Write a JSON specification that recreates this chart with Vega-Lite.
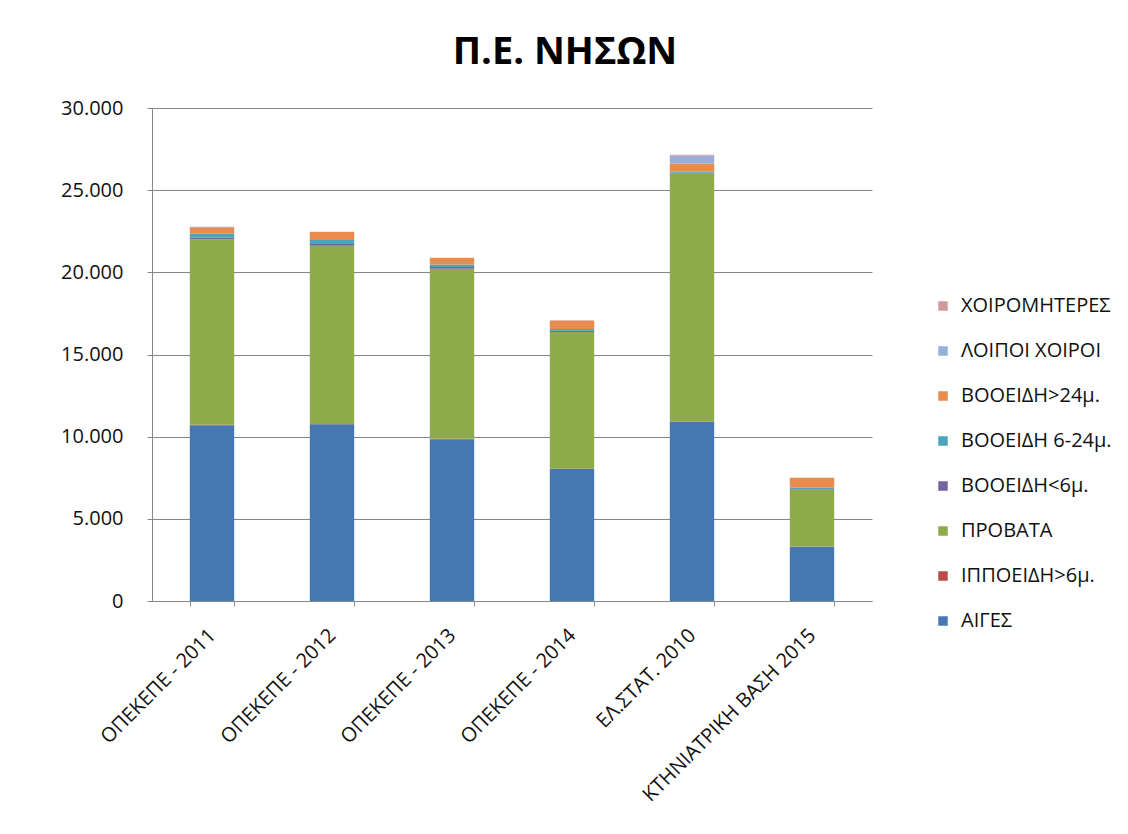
{
  "$schema": "https://vega.github.io/schema/vega-lite/v6.json",
  "width": 720,
  "height": 493,
  "autosize": {"type": "none"},
  "padding": {"left": 152, "top": 108, "right": 256, "bottom": 233},
  "background": "white",
  "title": {
    "text": "Π.Ε. ΝΗΣΩΝ",
    "font": "Open Sans",
    "fontSize": 38,
    "fontWeight": "bold",
    "color": "#000000",
    "anchor": "middle",
    "frame": "group",
    "dx": 53,
    "offset": 26
  },
  "data": {
    "values": [
      {"c": "ΟΠΕΚΕΠΕ - 2011", "k": "ΑΙΓΕΣ", "v": 10700},
      {"c": "ΟΠΕΚΕΠΕ - 2011", "k": "ΙΠΠΟΕΙΔΗ>6μ.", "v": 20},
      {"c": "ΟΠΕΚΕΠΕ - 2011", "k": "ΠΡΟΒΑΤΑ", "v": 11300},
      {"c": "ΟΠΕΚΕΠΕ - 2011", "k": "ΒΟΟΕΙΔΗ<6μ.", "v": 100},
      {"c": "ΟΠΕΚΕΠΕ - 2011", "k": "ΒΟΟΕΙΔΗ 6-24μ.", "v": 250},
      {"c": "ΟΠΕΚΕΠΕ - 2011", "k": "ΒΟΟΕΙΔΗ>24μ.", "v": 380},
      {"c": "ΟΠΕΚΕΠΕ - 2011", "k": "ΛΟΙΠΟΙ ΧΟΙΡΟΙ", "v": 20},
      {"c": "ΟΠΕΚΕΠΕ - 2011", "k": "ΧΟΙΡΟΜΗΤΕΡΕΣ", "v": 10},
      {"c": "ΟΠΕΚΕΠΕ - 2012", "k": "ΑΙΓΕΣ", "v": 10750},
      {"c": "ΟΠΕΚΕΠΕ - 2012", "k": "ΙΠΠΟΕΙΔΗ>6μ.", "v": 20},
      {"c": "ΟΠΕΚΕΠΕ - 2012", "k": "ΠΡΟΒΑΤΑ", "v": 10850},
      {"c": "ΟΠΕΚΕΠΕ - 2012", "k": "ΒΟΟΕΙΔΗ<6μ.", "v": 100},
      {"c": "ΟΠΕΚΕΠΕ - 2012", "k": "ΒΟΟΕΙΔΗ 6-24μ.", "v": 250},
      {"c": "ΟΠΕΚΕΠΕ - 2012", "k": "ΒΟΟΕΙΔΗ>24μ.", "v": 480},
      {"c": "ΟΠΕΚΕΠΕ - 2012", "k": "ΛΟΙΠΟΙ ΧΟΙΡΟΙ", "v": 10},
      {"c": "ΟΠΕΚΕΠΕ - 2012", "k": "ΧΟΙΡΟΜΗΤΕΡΕΣ", "v": 5},
      {"c": "ΟΠΕΚΕΠΕ - 2013", "k": "ΑΙΓΕΣ", "v": 9850},
      {"c": "ΟΠΕΚΕΠΕ - 2013", "k": "ΙΠΠΟΕΙΔΗ>6μ.", "v": 20},
      {"c": "ΟΠΕΚΕΠΕ - 2013", "k": "ΠΡΟΒΑΤΑ", "v": 10350},
      {"c": "ΟΠΕΚΕΠΕ - 2013", "k": "ΒΟΟΕΙΔΗ<6μ.", "v": 100},
      {"c": "ΟΠΕΚΕΠΕ - 2013", "k": "ΒΟΟΕΙΔΗ 6-24μ.", "v": 150},
      {"c": "ΟΠΕΚΕΠΕ - 2013", "k": "ΒΟΟΕΙΔΗ>24μ.", "v": 400},
      {"c": "ΟΠΕΚΕΠΕ - 2013", "k": "ΛΟΙΠΟΙ ΧΟΙΡΟΙ", "v": 10},
      {"c": "ΟΠΕΚΕΠΕ - 2013", "k": "ΧΟΙΡΟΜΗΤΕΡΕΣ", "v": 5},
      {"c": "ΟΠΕΚΕΠΕ - 2014", "k": "ΑΙΓΕΣ", "v": 8030},
      {"c": "ΟΠΕΚΕΠΕ - 2014", "k": "ΙΠΠΟΕΙΔΗ>6μ.", "v": 20},
      {"c": "ΟΠΕΚΕΠΕ - 2014", "k": "ΠΡΟΒΑΤΑ", "v": 8320},
      {"c": "ΟΠΕΚΕΠΕ - 2014", "k": "ΒΟΟΕΙΔΗ<6μ.", "v": 80},
      {"c": "ΟΠΕΚΕΠΕ - 2014", "k": "ΒΟΟΕΙΔΗ 6-24μ.", "v": 100},
      {"c": "ΟΠΕΚΕΠΕ - 2014", "k": "ΒΟΟΕΙΔΗ>24μ.", "v": 520},
      {"c": "ΟΠΕΚΕΠΕ - 2014", "k": "ΛΟΙΠΟΙ ΧΟΙΡΟΙ", "v": 10},
      {"c": "ΟΠΕΚΕΠΕ - 2014", "k": "ΧΟΙΡΟΜΗΤΕΡΕΣ", "v": 5},
      {"c": "ΕΛ.ΣΤΑΤ. 2010", "k": "ΑΙΓΕΣ", "v": 10900},
      {"c": "ΕΛ.ΣΤΑΤ. 2010", "k": "ΙΠΠΟΕΙΔΗ>6μ.", "v": 20},
      {"c": "ΕΛ.ΣΤΑΤ. 2010", "k": "ΠΡΟΒΑΤΑ", "v": 15100},
      {"c": "ΕΛ.ΣΤΑΤ. 2010", "k": "ΒΟΟΕΙΔΗ<6μ.", "v": 50},
      {"c": "ΕΛ.ΣΤΑΤ. 2010", "k": "ΒΟΟΕΙΔΗ 6-24μ.", "v": 50},
      {"c": "ΕΛ.ΣΤΑΤ. 2010", "k": "ΒΟΟΕΙΔΗ>24μ.", "v": 500},
      {"c": "ΕΛ.ΣΤΑΤ. 2010", "k": "ΛΟΙΠΟΙ ΧΟΙΡΟΙ", "v": 480},
      {"c": "ΕΛ.ΣΤΑΤ. 2010", "k": "ΧΟΙΡΟΜΗΤΕΡΕΣ", "v": 50},
      {"c": "ΚΤΗΝΙΑΤΡΙΚΗ ΒΑΣΗ 2015", "k": "ΑΙΓΕΣ", "v": 3300},
      {"c": "ΚΤΗΝΙΑΤΡΙΚΗ ΒΑΣΗ 2015", "k": "ΙΠΠΟΕΙΔΗ>6μ.", "v": 10},
      {"c": "ΚΤΗΝΙΑΤΡΙΚΗ ΒΑΣΗ 2015", "k": "ΠΡΟΒΑΤΑ", "v": 3480},
      {"c": "ΚΤΗΝΙΑΤΡΙΚΗ ΒΑΣΗ 2015", "k": "ΒΟΟΕΙΔΗ<6μ.", "v": 30},
      {"c": "ΚΤΗΝΙΑΤΡΙΚΗ ΒΑΣΗ 2015", "k": "ΒΟΟΕΙΔΗ 6-24μ.", "v": 70},
      {"c": "ΚΤΗΝΙΑΤΡΙΚΗ ΒΑΣΗ 2015", "k": "ΒΟΟΕΙΔΗ>24μ.", "v": 610},
      {"c": "ΚΤΗΝΙΑΤΡΙΚΗ ΒΑΣΗ 2015", "k": "ΛΟΙΠΟΙ ΧΟΙΡΟΙ", "v": 0},
      {"c": "ΚΤΗΝΙΑΤΡΙΚΗ ΒΑΣΗ 2015", "k": "ΧΟΙΡΟΜΗΤΕΡΕΣ", "v": 0}
    ]
  },
  "transform": [
    {"calculate": "indexof(['ΑΙΓΕΣ','ΙΠΠΟΕΙΔΗ>6μ.','ΠΡΟΒΑΤΑ','ΒΟΟΕΙΔΗ<6μ.','ΒΟΟΕΙΔΗ 6-24μ.','ΒΟΟΕΙΔΗ>24μ.','ΛΟΙΠΟΙ ΧΟΙΡΟΙ','ΧΟΙΡΟΜΗΤΕΡΕΣ'], datum.k)", "as": "ord"}
  ],
  "mark": {"type": "bar"},
  "encoding": {
    "x": {
      "field": "c",
      "type": "nominal",
      "sort": null,
      "scale": {"paddingInner": 0.63, "paddingOuter": 0.315},
      "axis": {
        "title": null,
        "labelAngle": -45,
        "labelAlign": "right",
        "labelBaseline": "middle",
        "labelFont": "Open Sans",
        "labelFontSize": 20,
        "labelColor": "#111111",
        "labelPadding": 26,
        "tickBand": "extent",
        "tickSize": 5,
        "tickColor": "#868686",
        "domainColor": "#868686",
        "labelLimit": 400
      }
    },
    "y": {
      "field": "v",
      "type": "quantitative",
      "stack": "zero",
      "scale": {"domain": [0, 30000], "nice": false},
      "axis": {
        "title": null,
        "values": [0, 5000, 10000, 15000, 20000, 25000, 30000],
        "labelExpr": "replace(format(datum.value, ','), ',', '.')",
        "labelFont": "Open Sans",
        "labelFontSize": 20,
        "labelColor": "#111111",
        "labelPadding": 24,
        "tickSize": 5,
        "tickColor": "#868686",
        "domainColor": "#868686",
        "grid": true,
        "gridColor": "#868686",
        "gridWidth": 1
      }
    },
    "color": {
      "field": "k",
      "type": "nominal",
      "scale": {
        "domain": ["ΧΟΙΡΟΜΗΤΕΡΕΣ", "ΛΟΙΠΟΙ ΧΟΙΡΟΙ", "ΒΟΟΕΙΔΗ>24μ.", "ΒΟΟΕΙΔΗ 6-24μ.", "ΒΟΟΕΙΔΗ<6μ.", "ΠΡΟΒΑΤΑ", "ΙΠΠΟΕΙΔΗ>6μ.", "ΑΙΓΕΣ"],
        "range": ["#D39A9B", "#98AEDB", "#E88B4C", "#4BA3BC", "#7762A0", "#8DAB4B", "#B94C4A", "#4677B0"]
      },
      "legend": {
        "title": null,
        "orient": "none",
        "legendX": 781,
        "legendY": 188,
        "symbolType": "square",
        "symbolSize": 90,
        "symbolStrokeWidth": 0,
        "labelFont": "Open Sans",
        "labelFontSize": 20,
        "labelColor": "#111111",
        "rowPadding": 25,
        "labelOffset": 8
      }
    },
    "order": {"field": "ord", "type": "quantitative"}
  },
  "config": {
    "view": {"stroke": null},
    "axis": {"domainWidth": 1, "tickWidth": 1}
  }
}
